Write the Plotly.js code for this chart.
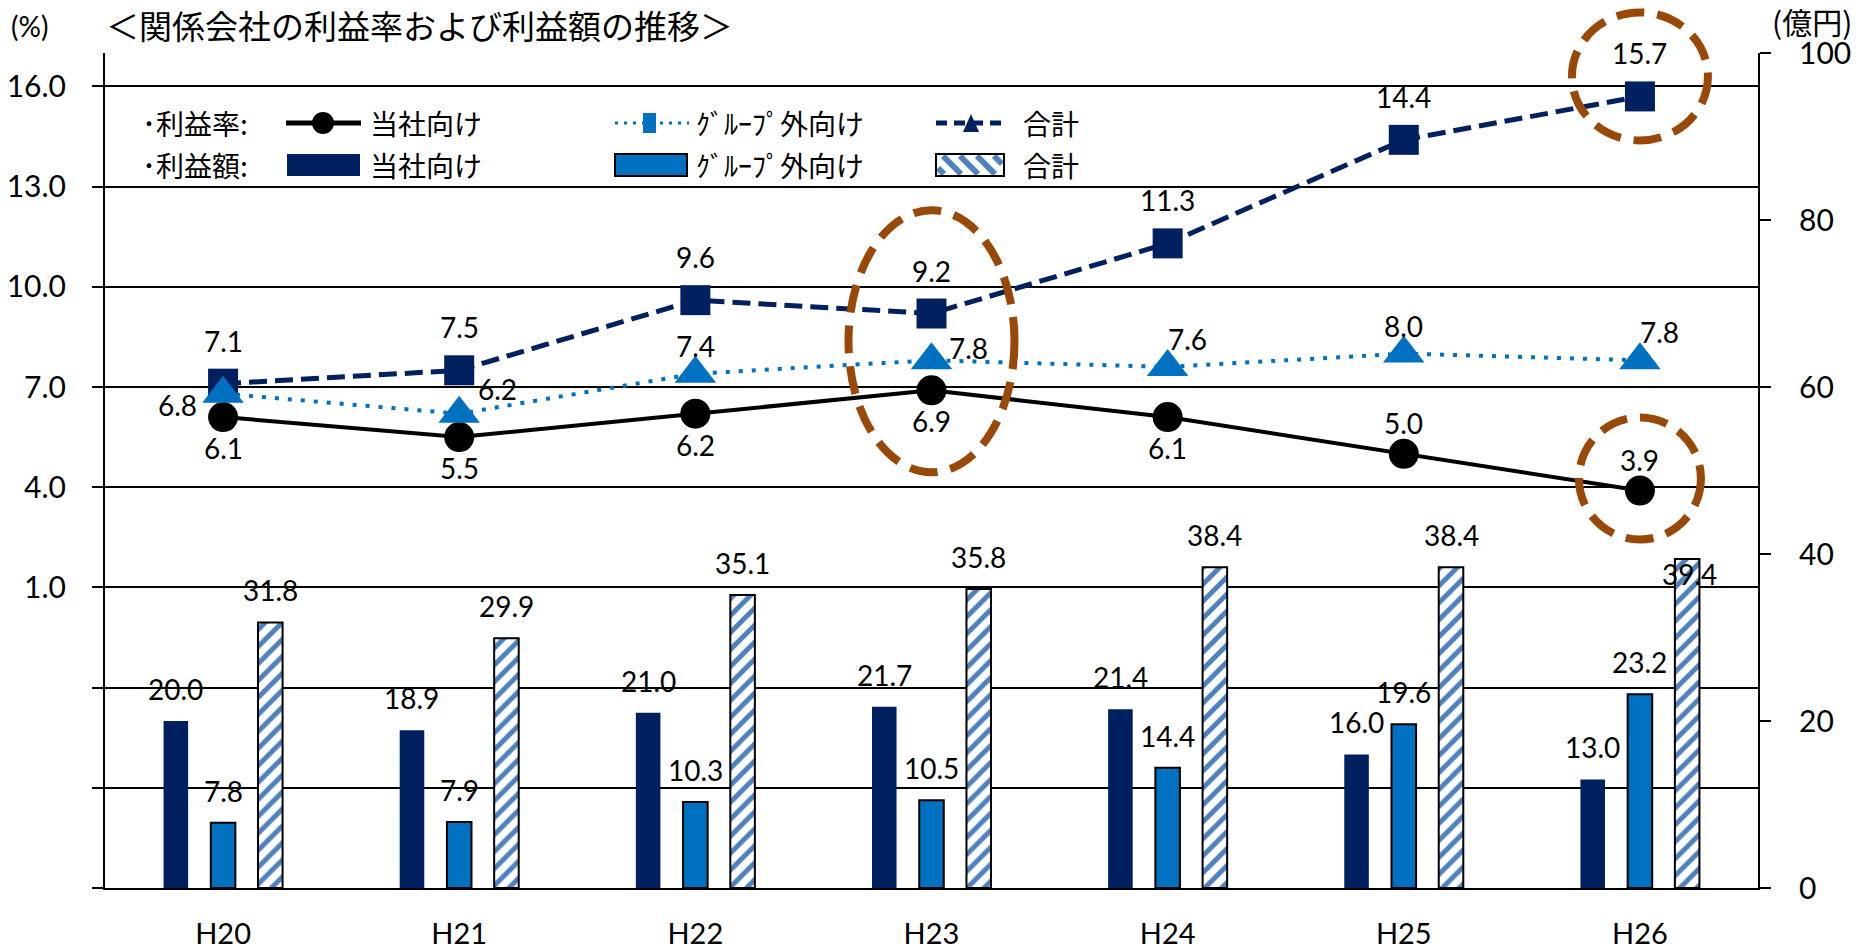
<!DOCTYPE html>
<html>
<head>
<meta charset="utf-8">
<script src="https://cdn.plot.ly/plotly-3.0.1.min.js"></script>
<style>
  html, body { margin: 0; padding: 0; background: #fff; }
  #chart { width: 1868px; height: 949px; }
</style>
</head>
<body>
<div id="chart"></div>
<script>
// fiscal years
const years = ['H20', 'H21', 'H22', 'H23', 'H24', 'H25', 'H26'];

// profit rate (%)
const rateOwn   = [6.1, 5.5, 6.2, 6.9, 6.1, 5.0, 3.9];
const rateOther = [6.8, 6.2, 7.4, 7.8, 7.6, 8.0, 7.8];
const rateTotal = [7.1, 7.5, 9.6, 9.2, 11.3, 14.4, 15.7];

// profit amount (億円)
const amtOwn   = [20.0, 18.9, 21.0, 21.7, 21.4, 16.0, 13.0];
const amtOther = [7.8, 7.9, 10.3, 10.5, 14.4, 19.6, 23.2];
const amtTotal = [31.8, 29.9, 35.1, 35.8, 38.4, 38.4, 39.4];

// axis ticks
const leftTickVals  = [-8, -5, -2, 1, 4, 7, 10, 13, 16];
const leftTickText  = ['', '', '', '1.0', '4.0', '7.0', '10.0', '13.0', '16.0'];
const rightTickVals = [0, 20, 40, 60, 80, 100];

// ---- styling / geometry ----
const NUM = 'Lato, "Liberation Sans", sans-serif';
const JP  = '"Noto Sans CJK JP", "Noto Sans", sans-serif';
const NAVY = '#002060', BLUE = '#0070C0', HATCH = '#4F81BD', BROWN = '#984807';

const W = 1868, H = 949;
const M = { l: 105, r: 110, t: 53, b: 61 };
const PW = W - M.l - M.r, PH = H - M.t - M.b;
const Y_LO = -8, Y_HI = 17;
const fx = v => (v - M.l) / PW;            // pixel -> paper x
const fy = v => (M.t + PH - v) / PH;       // pixel -> paper y
const catPx = i => M.l + (i + 0.5) * PW / years.length;          // category centre, pixels
const ratePx = v => M.t + PH - (v - Y_LO) / (Y_HI - Y_LO) * PH;   // left-axis value, pixels

const BARGAP = 0.4, BARGROUPGAP = 0.48;
const slotPx = PW / years.length * (1 - BARGAP) / 3;

// label placement for the rate lines (pixel nudges from each point)
const placeOwn   = ['below', 'below', 'below', 'below', 'below', 'above', 'above'];
const placeOther = ['left', 'upRight', 'above', 'right', 'aboveRight', 'above', 'aboveRight'];
const placeTotal = ['above', 'above', 'above', 'above', 'above', 'above', 'above'];
const nudgeCircle = { below: [0, 31], above: [0, -31] };
const nudgeTri = { left: [-46, 11], upRight: [38, -25], right: [37, -12], above: [0, -28], aboveRight: [20, -28] };
const nudgeSquare = { above: [0, -43] };

// label placement for the bars
const placeBarTotal = ['above', 'above', 'above', 'above', 'above', 'above', 'overTop'];
const nudgeBar = { above: [0, -32], overTop: [2, 15] };

// ---- traces ----
const barBase = { type: 'bar', x: years, yaxis: 'y2', hoverinfo: 'skip', showlegend: false, cliponaxis: false };
const traces = [
  Object.assign({}, barBase, { name: '利益額 当社向け', y: amtOwn, marker: { color: NAVY, line: { width: 0 } } }),
  Object.assign({}, barBase, { name: '利益額 グループ外向け', y: amtOther, marker: { color: BLUE, line: { color: '#000', width: 2 } } }),
  Object.assign({}, barBase, { name: '利益額 合計', y: amtTotal, marker: {
    color: '#fff', line: { color: '#000', width: 2 },
    pattern: { shape: '/', fgcolor: HATCH, bgcolor: '#fff', size: 12, solidity: 0.42, fillmode: 'replace' } } }),
  { type: 'scatter', mode: 'lines+markers', name: '利益率 当社向け', x: years, y: rateOwn, yaxis: 'y',
    line: { color: '#000', width: 4 }, marker: { symbol: 'circle', size: 30, color: '#000' },
    hoverinfo: 'skip', cliponaxis: false },
  { type: 'scatter', mode: 'lines+markers', name: '利益率 合計', x: years, y: rateTotal, yaxis: 'y',
    line: { color: NAVY, width: 5, dash: '18px,8px' }, marker: { symbol: 'square', size: 30, color: NAVY },
    hoverinfo: 'skip', cliponaxis: false },
  { type: 'scatter', mode: 'lines+markers', name: '利益率 グループ外向け', x: years, y: rateOther, yaxis: 'y',
    line: { color: BLUE, width: 4, dash: '4px,9px' }, marker: { symbol: 'triangle-up', size: 36, color: BLUE },
    hoverinfo: 'skip', cliponaxis: false }
];

// ---- value labels ----
const annotations = [];
const labelFont = { family: NUM, size: 28, color: '#000' };

function lineLabels(vals, places, nudges) {
  vals.forEach((v, i) => {
    const n = nudges[places[i]];
    annotations.push({ x: years[i], y: v, xref: 'x', yref: 'y', text: v.toFixed(1), showarrow: false,
      xanchor: 'center', yanchor: 'middle', xshift: n[0], yshift: -n[1], font: labelFont });
  });
}
lineLabels(rateOwn, placeOwn, nudgeCircle);
lineLabels(rateOther, placeOther, nudgeTri);
lineLabels(rateTotal, placeTotal, nudgeSquare);

[amtOwn, amtOther, amtTotal].forEach((vals, k) => {
  vals.forEach((v, i) => {
    const n = nudgeBar[k === 2 ? placeBarTotal[i] : 'above'];
    annotations.push({ x: years[i], y: v, xref: 'x', yref: 'y2', text: v.toFixed(1), showarrow: false,
      xanchor: 'center', yanchor: 'middle', xshift: (k - 1) * slotPx + n[0], yshift: -n[1], font: labelFont });
  });
});

// unit captions
annotations.push({ xref: 'paper', yref: 'paper', x: fx(29), y: fy(26), text: '(%)', showarrow: false,
  xanchor: 'center', yanchor: 'middle', font: { family: NUM, size: 28, color: '#000' } });
annotations.push({ xref: 'paper', yref: 'paper', x: fx(1812), y: fy(21), text: '(億円)', showarrow: false,
  xanchor: 'center', yanchor: 'middle', font: { family: JP, size: 30, color: '#000' } });

// ---- highlight ellipses (paper space so they may run past the plot top) ----
const shapes = [];
function ellipse(cx, cy, rx, ry) {
  shapes.push({ type: 'circle', xref: 'paper', yref: 'paper', x0: fx(cx - rx), x1: fx(cx + rx), y0: fy(cy + ry), y1: fy(cy - ry),
    line: { color: BROWN, width: 8, dash: '28px,13px' }, fillcolor: 'rgba(0,0,0,0)', layer: 'above' });
}
ellipse(catPx(6), ratePx(rateTotal[6]) - 20, 68, 64);
ellipse(catPx(3), ratePx(rateOther[3]) - 19, 83, 131);
ellipse(catPx(6), ratePx(rateOwn[6]) - 12, 61, 61);

// ---- hand-built legend (two rows) ----
const legY1 = 123, legY2 = 165;
function legText(x, y, text) {
  annotations.push({ xref: 'paper', yref: 'paper', x: fx(x), y: fy(y), text: text, showarrow: false,
    xanchor: 'left', yanchor: 'middle', font: { family: JP, size: 28, color: '#000' } });
}
function legLine(x0, x1, y, color, width, dash) {
  shapes.push({ type: 'line', xref: 'paper', yref: 'paper', x0: fx(x0), x1: fx(x1), y0: fy(y), y1: fy(y),
    line: { color: color, width: width, dash: dash || 'solid' } });
}
function legRect(x0, x1, y0, y1, fill, lc, lw) {
  shapes.push({ type: 'rect', xref: 'paper', yref: 'paper', x0: fx(x0), x1: fx(x1), y0: fy(y1), y1: fy(y0),
    fillcolor: fill, line: { color: lc, width: lw } });
}
function legCircle(cx, cy, r, color) {
  shapes.push({ type: 'circle', xref: 'paper', yref: 'paper', x0: fx(cx - r), x1: fx(cx + r), y0: fy(cy + r), y1: fy(cy - r),
    fillcolor: color, line: { width: 0 } });
}
function legTri(cx, cy, w, h, color) {
  const p = 'M' + fx(cx - w / 2) + ',' + fy(cy + h / 2) + ' L' + fx(cx + w / 2) + ',' + fy(cy + h / 2) +
            ' L' + fx(cx) + ',' + fy(cy - h / 2) + ' Z';
  shapes.push({ type: 'path', xref: 'paper', yref: 'paper', path: p, fillcolor: color, line: { width: 0 } });
}
function legHatch(x0, x1, y0, y1) {
  legRect(x0, x1, y0, y1, '#fff', '#fff', 0);
  const ins = 2, w = x1 - x0 - 2 * ins, h = y1 - y0 - 2 * ins, bx = x0 + ins, by = y1 - ins;
  let d = '';
  for (let c = 6; c < w + h; c += 17) {
    const ua = Math.max(0, c - h), ub = Math.min(w, c);
    d += 'M' + fx(bx + ua) + ',' + fy(by - (c - ua)) + ' L' + fx(bx + ub) + ',' + fy(by - (c - ub)) + ' ';
  }
  shapes.push({ type: 'path', xref: 'paper', yref: 'paper', path: d, line: { color: HATCH, width: 6 } });
  legRect(x0, x1, y0, y1, 'rgba(0,0,0,0)', '#000', 2);
}

// row 1: profit rate
legText(140, legY1, '･利益率:');
legLine(286, 361, legY1, '#000', 5);
legCircle(323, legY1, 11, '#000');
legText(368, legY1, '当社向け');
legLine(615, 689, legY1, BLUE, 3, '3px,6px');
legRect(643, 656, legY1 - 10, legY1 + 10, BLUE, BLUE, 0);
legText(694, legY1, 'ｸﾞﾙｰﾌﾟ外向け');
legLine(936, 1007, legY1, NAVY, 5, '11px,7px');
legTri(971, legY1, 16, 18, NAVY);
legText(1021, legY1, '合計');

// row 2: profit amount
legText(140, legY2, '･利益額:');
legRect(287, 360, legY2 - 11, legY2 + 11, NAVY, NAVY, 0);
legText(368, legY2, '当社向け');
legRect(615, 687, legY2 - 11, legY2 + 11, BLUE, '#000', 2);
legText(694, legY2, 'ｸﾞﾙｰﾌﾟ外向け');
legHatch(936, 1004, legY2 - 11, legY2 + 11);
legText(1021, legY2, '合計');

const layout = {
  width: W, height: H,
  margin: { l: M.l, r: M.r, t: M.t, b: M.b, pad: 0 },
  paper_bgcolor: '#fff', plot_bgcolor: '#fff',
  showlegend: false,
  barmode: 'group', bargap: BARGAP, bargroupgap: BARGROUPGAP,
  title: { text: '＜関係会社の利益率および利益額の推移＞', font: { family: JP, size: 33, color: '#000' },
    xref: 'container', yref: 'container', x: 106 / W, xanchor: 'left', y: 1 - 27 / H, yanchor: 'middle' },
  xaxis: {
    type: 'category', range: [-0.5, years.length - 0.5],
    showline: true, linecolor: '#000', linewidth: 2, ticks: '', showgrid: false, zeroline: false,
    tickfont: { family: NUM, size: 29, color: '#000' }, ticklabelstandoff: 19, fixedrange: true
  },
  yaxis: {
    range: [Y_LO, Y_HI], tickmode: 'array', tickvals: leftTickVals, ticktext: leftTickText,
    showgrid: true, gridcolor: '#000', gridwidth: 2, zeroline: false,
    showline: true, linecolor: '#000', linewidth: 2,
    ticks: 'outside', ticklen: 11, tickwidth: 2, tickcolor: '#000',
    tickfont: { family: NUM, size: 30, color: '#000' }, ticklabelstandoff: 20, fixedrange: true
  },
  yaxis2: {
    overlaying: 'y', side: 'right', range: [0, 100], tickmode: 'array', tickvals: rightTickVals,
    showgrid: false, zeroline: false, showline: true, linecolor: '#000', linewidth: 2,
    ticks: 'outside', ticklen: 11, tickwidth: 2, tickcolor: '#000',
    tickfont: { family: NUM, size: 30, color: '#000' }, ticklabelstandoff: 22, fixedrange: true
  },
  shapes: shapes,
  annotations: annotations
};

Plotly.newPlot('chart', traces, layout, { displayModeBar: false, staticPlot: true });
</script>
</body>
</html>
